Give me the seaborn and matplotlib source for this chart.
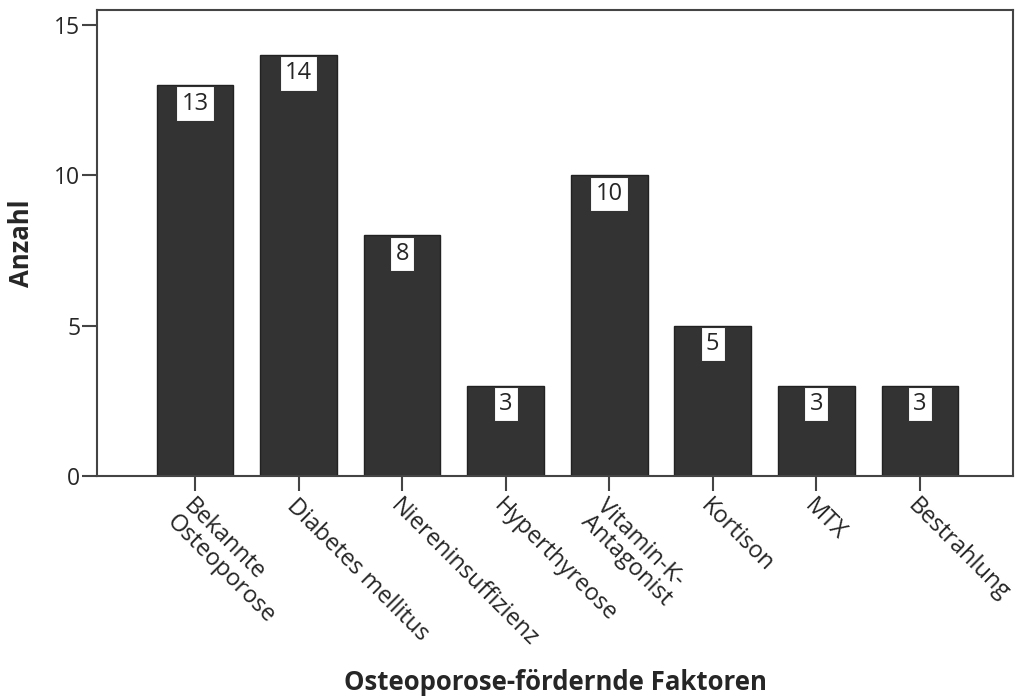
import matplotlib
matplotlib.use("Agg")
import matplotlib.pyplot as plt
import seaborn as sns
import pandas as pd

# Daten
faktoren = ["Bekannte\nOsteoporose", "Diabetes mellitus", "Niereninsuffizienz",
            "Hyperthyreose", "Vitamin-K-\nAntagonist", "Kortison", "MTX", "Bestrahlung"]
anzahl = [13, 14, 8, 3, 10, 5, 3, 3]
y_ticks = [0, 5, 10, 15]

df = pd.DataFrame({"faktor": faktoren, "anzahl": anzahl})

sns.set_style("ticks")
plt.rcParams["font.family"] = ["Open Sans", "DejaVu Sans"]

fig = plt.figure(figsize=(10.16, 6.97), dpi=100)
ax = fig.add_axes([97 / 1016, 1 - 476 / 697, (1013 - 97) / 1016, (476 - 10) / 697])

sns.barplot(data=df, x="faktor", y="anzahl", color="#333333", width=0.74,
            edgecolor="#222222", linewidth=1, saturation=1, ax=ax)

ax.set_ylim(0, 15.5)
ax.set_xlim(-0.947, 7.9)
ax.set_yticks(y_ticks)
ax.tick_params(axis="both", direction="out", length=11, width=1.5, labelsize=16.5, color="#444444")
ax.tick_params(axis="y", pad=1)
ax.tick_params(axis="x", pad=2)
for sp in ax.spines.values():
    sp.set_linewidth(1.5)
    sp.set_color("#444444")

ax.set_xticks(range(len(faktoren)))
ax.set_xticklabels(faktoren, rotation=-45, ha="left", va="top",
                   rotation_mode="anchor", fontsize=17, linespacing=0.95)

# Wertebeschriftung in weissen Kästchen
for i, v in enumerate(anzahl):
    ax.annotate(str(v), xy=(i, v), xytext=(0, -4.6), textcoords="offset points",
                ha="center", va="top", fontsize=17,
                bbox=dict(boxstyle="square,pad=0.22", fc="white", ec="#333333", lw=0.8))

ax.set_xlabel("Osteoporose-fördernde Faktoren", fontsize=18.5, fontweight="bold", va="center")
ax.xaxis.set_label_coords(0.5, (476 - 682) / (476 - 10))
ax.set_ylabel("Anzahl", fontsize=18.5, fontweight="bold")
ax.yaxis.set_label_coords((35 - 97) / (1013 - 97), 0.5)

fig.savefig("out.png", dpi=100)
